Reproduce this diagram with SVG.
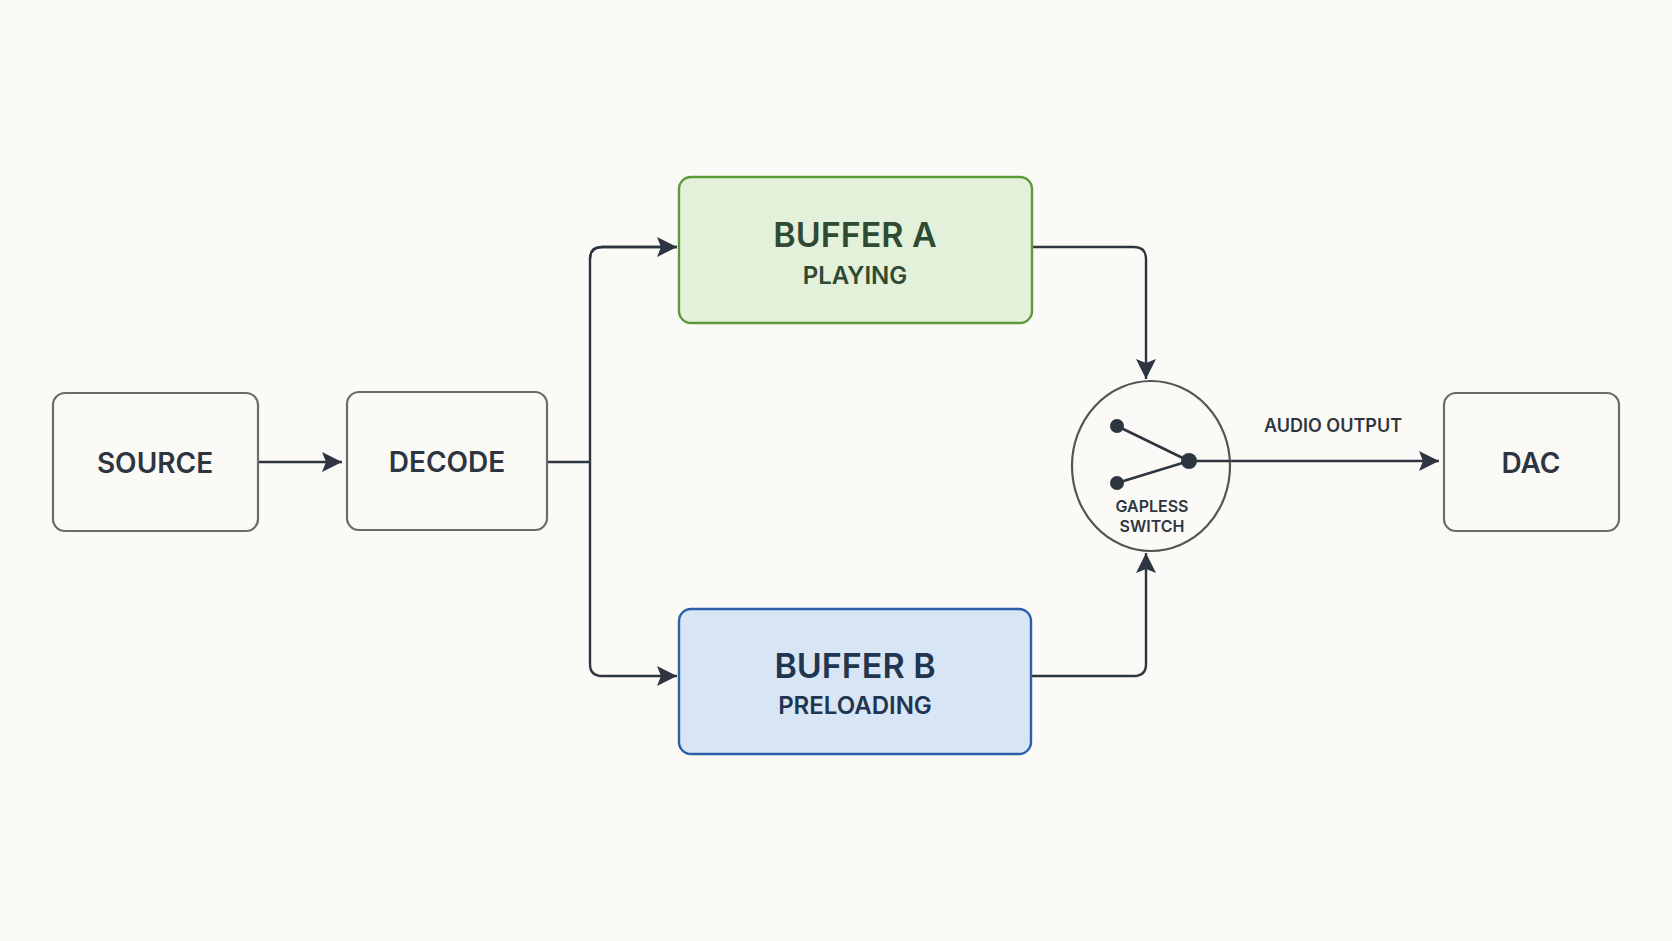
<svg xmlns="http://www.w3.org/2000/svg" width="1672" height="941" viewBox="0 0 1672 941">
<style>
.n{fill:#fcfaf7;stroke:#6b6b6b;stroke-width:2.2}
.t{font-family:"Inter","Noto Sans",sans-serif;font-weight:600;text-anchor:middle;fill:#2d3640}
.c{fill:none;stroke:#2d3640;stroke-width:2.4}
</style>
<defs><marker id="ar" markerWidth="12" markerHeight="12" refX="11" refY="6" orient="auto" markerUnits="userSpaceOnUse" viewBox="0 0 12 12"><path d="M0,0 L12,6 L0,12 L3,6 Z" fill="#2d3640" transform="scale(1)"/></marker>
<marker id="ab" markerWidth="22" markerHeight="20" refX="20" refY="10" orient="auto" markerUnits="userSpaceOnUse"><path d="M0,0 L20,10 L0,20 L4,10 Z" fill="#2d3640"/></marker></defs>
<rect width="1672" height="941" fill="#fcfaf7"/>
<g id="connectors">
<path class="c" d="M258,462 H342" marker-end="url(#ab)"/>
<path class="c" d="M547,462 H590"/>
<path class="c" d="M677,247 H602 Q590,247 590,259 V664 Q590,676 602,676 H677" marker-end="url(#ab)"/>
<path class="c" d="M590,259 Q590,247 602,247 H677" marker-end="url(#ab)"/>
<path class="c" d="M1032,247 H1134 Q1146,247 1146,259 V379" marker-end="url(#ab)"/>
<path class="c" d="M1031,676 H1134 Q1146,676 1146,664 V553" marker-end="url(#ab)"/>
<path class="c" d="M1189,461 H1439" marker-end="url(#ab)"/>
<text class="t" x="1333" y="432" font-size="18">AUDIO OUTPUT</text>
</g>
<g id="source"><rect class="n" x="53" y="393" width="205" height="138" rx="12"/><text class="t" x="155" y="473" font-size="28">SOURCE</text></g>
<g id="decode"><rect class="n" x="347" y="392" width="200" height="138" rx="12"/><text class="t" x="447" y="472" font-size="28">DECODE</text></g>
<g id="bufferA"><rect x="679" y="177" width="353" height="146" rx="12" fill="#e3f1da" stroke="#5a9a3c" stroke-width="2.4"/>
<text class="t" x="855" y="247" font-size="34" fill="#2e4a33" style="fill:#2e4a33">BUFFER A</text>
<text class="t" x="855" y="284" font-size="24" style="fill:#2e4a33">PLAYING</text></g>
<g id="bufferB"><rect x="679" y="609" width="352" height="145" rx="12" fill="#d8e5f4" stroke="#2b5fa8" stroke-width="2.4"/>
<text class="t" x="855" y="678" font-size="34" style="fill:#1f3550">BUFFER B</text>
<text class="t" x="855" y="714" font-size="24" style="fill:#1f3550">PRELOADING</text></g>
<g id="switch"><ellipse cx="1151" cy="466" rx="79" ry="85" fill="#fcfaf7" stroke="#555" stroke-width="2.2"/>
<path d="M1117,426 L1189,461 L1117,483" fill="none" stroke="#2d3640" stroke-width="2.6"/>
<circle cx="1117" cy="426" r="7" fill="#2d3640"/><circle cx="1117" cy="483" r="7" fill="#2d3640"/><circle cx="1189" cy="461" r="8" fill="#2d3640"/>
<path class="c" d="M1189,461 H1230"/>
<text class="t" x="1152" y="512" font-size="16">GAPLESS</text><text class="t" x="1152" y="532" font-size="16">SWITCH</text></g>
<g id="dac"><rect class="n" x="1444" y="393" width="175" height="138" rx="12"/><text class="t" x="1531" y="473" font-size="28">DAC</text></g>
</svg>
